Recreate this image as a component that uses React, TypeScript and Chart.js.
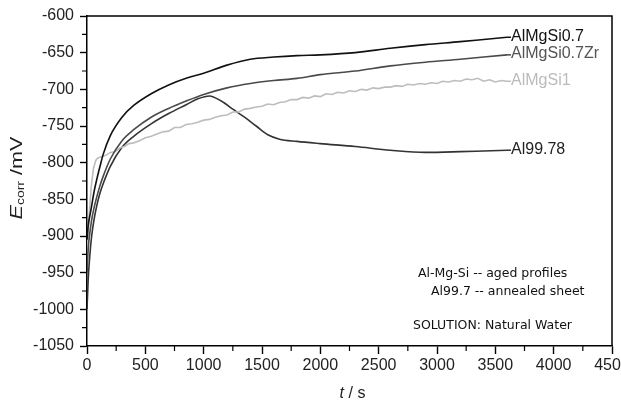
import React, { useEffect, useRef } from "react";
import { Chart, registerables } from "chart.js";

Chart.register(...registerables);

// ---- data (time in s, potential in mV) ----
const seriesNames = ["AlMgSi0.7", "AlMgSi0.7Zr", "AlMgSi1", "Al99.78"];

const tSmooth = [0, 10, 25, 40, 60, 85, 110, 140, 200, 300, 400, 550, 700, 850, 1000, 1200, 1400, 1600, 1800, 2000, 2300, 2600, 2900, 3200, 3400, 3600];
const eAlMgSi07 = [-905, -886, -872, -859, -840, -822, -806, -788, -763, -738, -722, -706, -694, -685, -678, -667, -659, -656, -654, -653, -650, -644, -639, -635, -632, -629];
const eAlMgSi07Zr = [-950, -918, -895, -878, -862, -846, -832, -818, -795, -770, -755, -738, -726, -716, -707, -698, -692, -688, -685, -680, -675, -668, -663, -659, -656, -653];

const tAl9978 = [0, 10, 25, 40, 60, 85, 110, 140, 200, 300, 400, 550, 700, 850, 950, 1050, 1150, 1250, 1350, 1450, 1550, 1650, 1800, 2000, 2300, 2600, 2900, 3200, 3400, 3600];
const eAl9978 = [-1000, -960, -925, -900, -878, -858, -842, -828, -805, -779, -764, -747, -733, -721, -713, -709, -716, -727, -738, -750, -762, -768, -771, -774, -778, -783, -786, -785, -784, -783];

const tAlMgSi1 = [0, 15, 35, 55, 75, 90, 120, 160, 200, 240, 280, 320, 360, 400, 450, 500, 550, 600, 650, 700, 750, 800, 850, 900, 950, 1000, 1050, 1100, 1150, 1200, 1250, 1300, 1350, 1400, 1450, 1500, 1550, 1600, 1650, 1700, 1750, 1800, 1850, 1900, 1950, 2000, 2050, 2100, 2150, 2200, 2250, 2300, 2350, 2400, 2450, 2500, 2550, 2600, 2650, 2700, 2750, 2800, 2850, 2900, 2950, 3000, 3050, 3100, 3150, 3200, 3250, 3300, 3350, 3400, 3450, 3500, 3550, 3600];
const eAlMgSi1 = [-935, -880, -835, -808, -797, -794, -792, -790, -786, -785, -780, -778, -774, -773, -770, -766, -764, -761, -758, -757, -752, -752, -748, -747, -745, -742, -741, -738, -736, -735, -731, -731, -727, -726, -724, -723, -720, -721, -718, -717, -714, -714, -711, -712, -709, -710, -706, -707, -704, -705, -702, -703, -700, -701, -698, -699, -697, -697, -695, -696, -693, -694, -692, -693, -691, -692, -689, -690, -688, -689, -686, -687, -685, -689, -687, -690, -688, -689];

const xTickMin = 0;
const xTickMax = 4500;
const xTickStep = 500;
const yTickMin = -1050;
const yTickMax = -600;
const yTickStep = 50;

const annotationLines = ["Al-Mg-Si -- aged profiles", "Al99.7 -- annealed sheet", "SOLUTION: Natural Water"];

const COLORS = ["#111111", "#4a4a4a", "#bdbdbd", "#333333"];
const LABEL_COLORS = ["#111111", "#555555", "#bbbbbb", "#222222"];

function toPoints(t: number[], e: number[]) {
  return t.map((x, i) => ({ x, y: e[i] }));
}

const SANS = "'Liberation Sans', Arial, sans-serif";

const decorPlugin = {
  id: "decor",
  afterDatasetsDraw(chart: any) {
    const ctx = chart.ctx;
    const { left, right, top, bottom } = chart.chartArea;
    const xs = chart.scales.x;
    const ys = chart.scales.y;
    ctx.save();
    // frame
    ctx.strokeStyle = "#000";
    ctx.lineWidth = 1.5;
    ctx.beginPath();
    ctx.moveTo(left, top);
    ctx.lineTo(right, top);
    ctx.lineTo(right, bottom);
    ctx.stroke();
    // minor ticks
    ctx.lineWidth = 1.2;
    ctx.beginPath();
    for (let v = xTickMin + xTickStep / 2; v < xTickMax; v += xTickStep) {
      const px = xs.getPixelForValue(v);
      ctx.moveTo(px, bottom);
      ctx.lineTo(px, bottom + 5);
    }
    for (let v = yTickMin + yTickStep / 2; v < yTickMax; v += yTickStep) {
      const py = ys.getPixelForValue(v);
      ctx.moveTo(left, py);
      ctx.lineTo(left - 5, py);
    }
    ctx.stroke();

    // series end labels
    ctx.font = `16px ${SANS}`;
    ctx.textBaseline = "middle";
    ctx.textAlign = "left";
    chart.data.datasets.forEach((ds: any, i: number) => {
      const meta = chart.getDatasetMeta(i);
      const last = meta.data[meta.data.length - 1];
      if (!last) return;
      ctx.strokeStyle = ds.borderColor;
      ctx.lineWidth = 1.5;
      ctx.beginPath();
      ctx.moveTo(last.x, last.y);
      ctx.lineTo(last.x + 4, last.y);
      ctx.stroke();
      ctx.fillStyle = LABEL_COLORS[i];
      ctx.fillText(ds.label, last.x + 4, last.y - 1);
    });

    // annotation
    ctx.fillStyle = "#111";
    ctx.font = `12.5px 'DejaVu Sans', sans-serif`;
    ctx.fillText(annotationLines[0], 418, 274);
    ctx.fillText(annotationLines[1], 431, 292);
    ctx.fillText(annotationLines[2], 413, 326);

    // x title: t / s
    ctx.fillStyle = "#222";
    ctx.font = `italic 16px ${SANS}`;
    const tW = ctx.measureText("t").width;
    ctx.font = `16px ${SANS}`;
    const restW = ctx.measureText(" / s").width;
    const cx = (left + right) / 2 + 3;
    const x0 = cx - (tW + restW) / 2;
    ctx.font = `italic 16px ${SANS}`;
    ctx.fillText("t", x0, 394);
    ctx.font = `16px ${SANS}`;
    ctx.fillText(" / s", x0 + tW, 394);

    // y title: E_corr /mV
    ctx.translate(17, 178);
    ctx.rotate(-Math.PI / 2);
    ctx.font = `italic 17px ${SANS}`;
    const eW = ctx.measureText("E").width;
    ctx.font = `11px ${SANS}`;
    const cW = ctx.measureText("corr").width;
    ctx.font = `17px ${SANS}`;
    const mW = ctx.measureText(" /mV").width;
    const total = eW + cW + mW;
    const sx = 83 / total;
    ctx.scale(sx, 1);
    let p = -total / 2;
    ctx.font = `italic 17px ${SANS}`;
    ctx.fillText("E", p, 0);
    p += eW;
    ctx.font = `11px ${SANS}`;
    ctx.fillText("corr", p, 4);
    p += cW;
    ctx.font = `17px ${SANS}`;
    ctx.fillText(" /mV", p, 0);
    ctx.restore();
  },
};

export default function App() {
  const ref = useRef<HTMLCanvasElement | null>(null);

  useEffect(() => {
    document.body.style.margin = "0";
    const canvas = ref.current;
    if (!canvas) return;
    const datasets = [
      toPoints(tSmooth, eAlMgSi07),
      toPoints(tSmooth, eAlMgSi07Zr),
      toPoints(tAlMgSi1, eAlMgSi1),
      toPoints(tAl9978, eAl9978),
    ].map((data, i) => ({
      label: seriesNames[i],
      data,
      borderColor: COLORS[i],
      backgroundColor: COLORS[i],
      borderWidth: 1.6,
      pointRadius: 0,
      cubicInterpolationMode: i === 2 ? "default" : "monotone",
      tension: i === 2 ? 0 : 0.4,
      fill: false,
    }));

    const chart = new Chart(canvas, {
      type: "line",
      data: { datasets },
      plugins: [decorPlugin],
      options: {
        animation: false,
        responsive: false,
        devicePixelRatio: 1,
        layout: { padding: { top: 16, right: 9, left: 0, bottom: 0 } },
        plugins: { legend: { display: false }, tooltip: { enabled: false } },
        scales: {
          x: {
            type: "linear",
            min: xTickMin,
            max: xTickMax,
            ticks: {
              stepSize: xTickStep,
              color: "#222",
              font: { family: SANS, size: 16 },
              padding: 2,
              maxRotation: 0,
              autoSkip: false,
              callback: (v: any) => String(v),
            },
            grid: {
              drawOnChartArea: false,
              drawTicks: true,
              tickLength: 8,
              tickColor: "#000",
              tickWidth: 1.4,
            },
            border: { display: true, color: "#000", width: 1.5 },
            afterFit: (s: any) => {
              s.height = 59;
              s.paddingLeft = 0;
              s.paddingRight = 0;
            },
          },
          y: {
            type: "linear",
            min: yTickMin,
            max: yTickMax,
            ticks: {
              stepSize: yTickStep,
              color: "#222",
              font: { family: SANS, size: 16 },
              padding: 6,
              autoSkip: false,
              callback: (v: any) => String(v),
            },
            grid: {
              drawOnChartArea: false,
              drawTicks: true,
              tickLength: 7,
              tickColor: "#000",
              tickWidth: 1.4,
            },
            border: { display: true, color: "#000", width: 1.5 },
            afterFit: (s: any) => {
              s.width = 87;
              s.paddingTop = 0;
              s.paddingBottom = 0;
            },
          },
        },
      } as any,
    });
    return () => chart.destroy();
  }, []);

  return (
    <div style={{ width: 621, height: 405, position: "relative", background: "#fff" }}>
      <canvas ref={ref} width={621} height={405} style={{ display: "block" }} />
    </div>
  );
}
